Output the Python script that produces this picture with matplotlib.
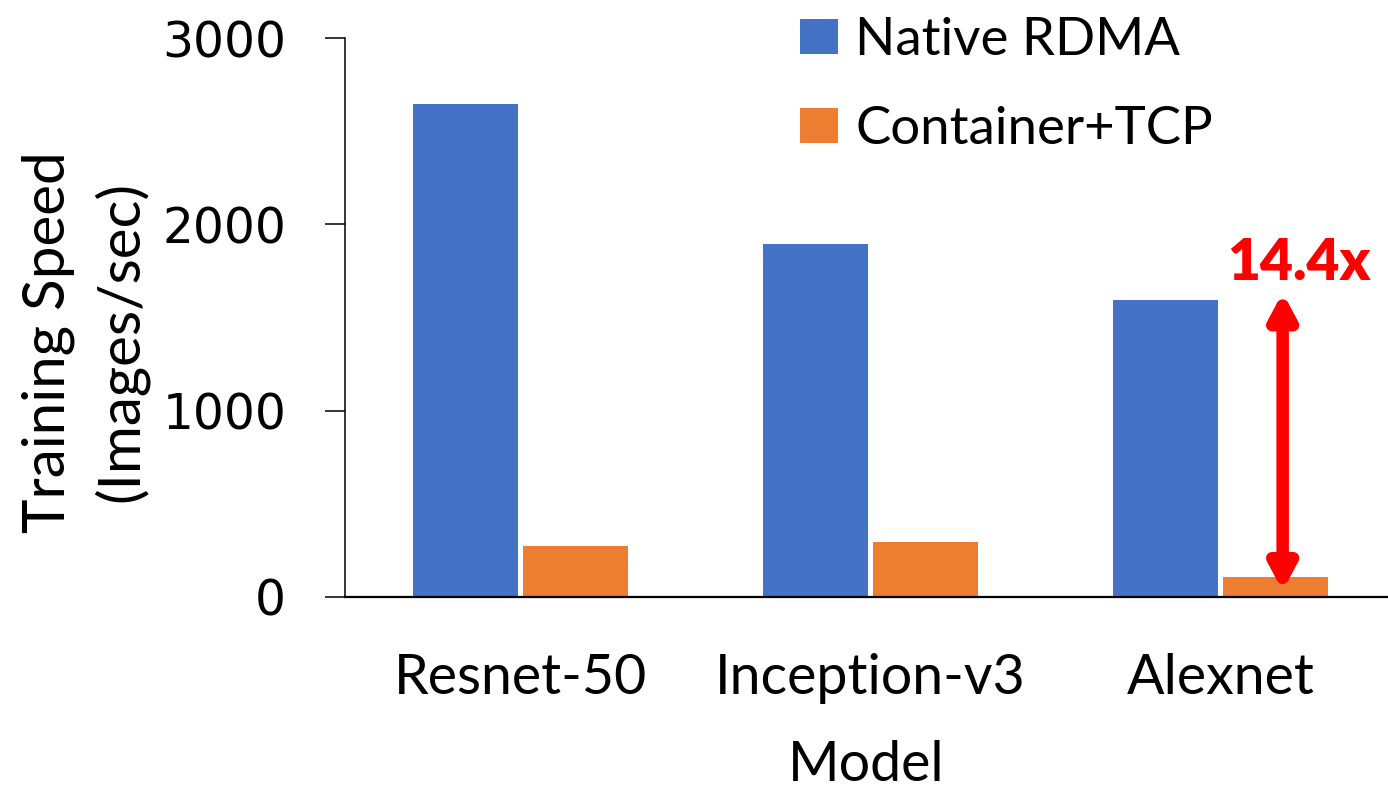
import matplotlib.pyplot as plt
import numpy as np

# values
models = ["Resnet-50", "Inception-v3", "Alexnet"]
native_rdma = [2646, 1895, 1594]
container_tcp = [274, 295, 110]
speedup_label = "14.4x"

blue = "#4472C4"
orange = "#ED7D31"

plt.rcParams['font.family'] = ['Lato', 'DejaVu Sans']

fig = plt.figure(figsize=(13.88, 7.89), dpi=100)
ax = fig.add_axes([345/1388, 1-597/789, 1-345/1388, (597-38)/789])

x = np.arange(len(models))
w = 0.3
off = 0.158
ax.bar(x - off, native_rdma, w, color=blue, label="Native RDMA")
ax.bar(x + off, container_tcp, w, color=orange, label="Container+TCP")

ax.set_xlim(-0.501, 2.479)
ax.set_ylim(0, 3000)
ax.set_yticks([0, 1000, 2000, 3000])
ax.set_xticks(x)
ax.set_xticklabels(models, fontsize=40)
for lab in ax.get_yticklabels():
    lab.set_fontfamily('DejaVu Sans')
    lab.set_fontsize(35)
ax.tick_params(axis='y', length=14.4, width=1.1, pad=28, direction='out')
ax.tick_params(axis='x', length=0, pad=40)

for s in ['top', 'right']:
    ax.spines[s].set_visible(False)
ax.spines['left'].set_linewidth(1.1)
ax.spines['bottom'].set_linewidth(1.6)

ax.set_xlabel("Model", fontsize=40, labelpad=26)
fig.text(85/1388, 1-342/789, "Training Speed\n(Images/sec)", rotation=90,
         ha='center', va='center', fontsize=42, linespacing=1.4)

# speedup arrow on Alexnet
i = 2
ax.annotate("", xy=(x[i] + off + 0.02, container_tcp[i] * 0.3),
            xytext=(x[i] + off + 0.02, native_rdma[i] + 40),
            arrowprops=dict(arrowstyle="<|-|>,head_length=1.4,head_width=0.75",
                            color="#FF0000", lw=9, shrinkA=0, shrinkB=0))
ax.text(x[i] + 0.224, native_rdma[i] + 105, speedup_label, color="#FF0000",
        fontsize=41, fontweight='heavy', ha='center', va='baseline')

ax.legend(loc='upper left', bbox_to_anchor=(800/1388, 1-17/789),
          bbox_transform=fig.transFigure, frameon=False, fontsize=38,
          handlelength=0.72, handleheight=0.66, handletextpad=0.33,
          labelspacing=0.8, borderpad=0, borderaxespad=0)

fig.savefig("out.png", dpi=100)
